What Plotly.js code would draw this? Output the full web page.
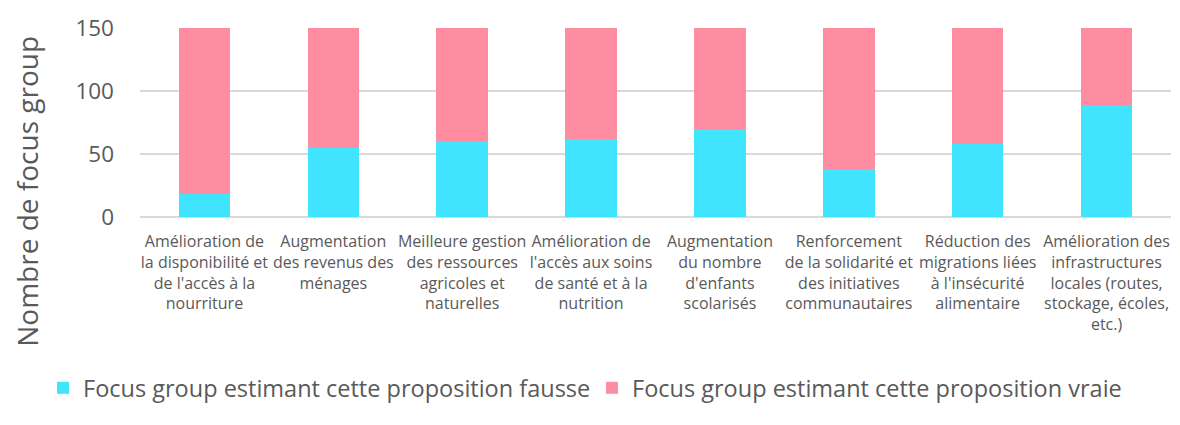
<!DOCTYPE html>
<html>
<head>
<meta charset="utf-8">
<script src="https://cdn.plot.ly/plotly-3.0.1.min.js"></script>
<style>html,body{margin:0;padding:0;background:#fff;}#chart{width:1180px;height:425px;}</style>
</head>
<body>
<div id="chart"></div>
<script>
const categories = [
  "Amélioration de<br>la disponibilité et<br>de l'accès à la<br>nourriture",
  "Augmentation<br>des revenus des<br>ménages",
  "Meilleure gestion<br>des ressources<br>agricoles et<br>naturelles",
  "Amélioration de<br>l'accès aux soins<br>de santé et à la<br>nutrition",
  "Augmentation<br>du nombre<br>d'enfants<br>scolarisés",
  "Renforcement<br>de la solidarité et<br>des initiatives<br>communautaires",
  "Réduction des<br>migrations liées<br>à l'insécurité<br>alimentaire",
  "Amélioration des<br>infrastructures<br>locales (routes,<br>stockage, écoles,<br>etc.)"
];
const fausse = [18, 55, 60, 62, 70, 38, 58, 89];
const vraie = [132, 95, 90, 88, 80, 112, 92, 61];
const seriesNames = ["Focus group estimant cette proposition fausse", "Focus group estimant cette proposition vraie"];
const yTicks = [0, 50, 100, 150];
const yTitle = "Nombre de focus group";

const font = "Open Sans, sans-serif";
const grey = "#595959";

const traces = [
  {type: "bar", x: categories, y: fausse, name: seriesNames[0], marker: {color: "#40E4FF"}, legend: "legend", showlegend: true},
  {type: "bar", x: categories, y: vraie, name: seriesNames[1], marker: {color: "#FF8DA2"}, legend: "legend2", showlegend: true}
];

const legendBase = {
  orientation: "h", xref: "container", yref: "container",
  xanchor: "left", y: 0.087, yanchor: "middle",
  font: {size: 23.5, color: grey, family: font},
  itemwidth: 30, bgcolor: "rgba(0,0,0,0)"
};

const layout = {
  width: 1180, height: 425,
  margin: {l: 140, r: 9, t: 28, b: 208},
  barmode: "stack",
  bargap: 0.6,
  showlegend: true,
  paper_bgcolor: "#fff", plot_bgcolor: "#fff",
  font: {family: font, color: grey},
  xaxis: {
    tickfont: {size: 16, color: grey, family: font},
    showgrid: false, showline: false, ticks: "", tickangle: 0, automargin: false,
    ticklabelstandoff: 13
  },
  yaxis: {
    range: [0, 150], tickvals: yTicks, ticktext: yTicks.map(String),
    tickfont: {size: 22.5, color: grey, family: font},
    gridcolor: "#d9d9d9", gridwidth: 1.5, zeroline: true, zerolinecolor: "#d9d9d9", zerolinewidth: 1.5,
    showline: false, ticks: "", ticklen: 0, automargin: false,
    ticklabelstandoff: 25
  },
  legend: Object.assign({}, legendBase, {x: 43 / 1180}),
  legend2: Object.assign({}, legendBase, {x: 592 / 1180}),
  annotations: [{
    text: yTitle, textangle: -90, showarrow: false,
    xref: "paper", yref: "paper",
    x: (27 - 140) / 1031, y: (217.3 - 192) / 189.3,
    xanchor: "center", yanchor: "middle",
    font: {size: 28, color: grey, family: font}
  }]
};

Plotly.newPlot("chart", traces, layout, {displayModeBar: false, staticPlot: true});
</script>
</body>
</html>
